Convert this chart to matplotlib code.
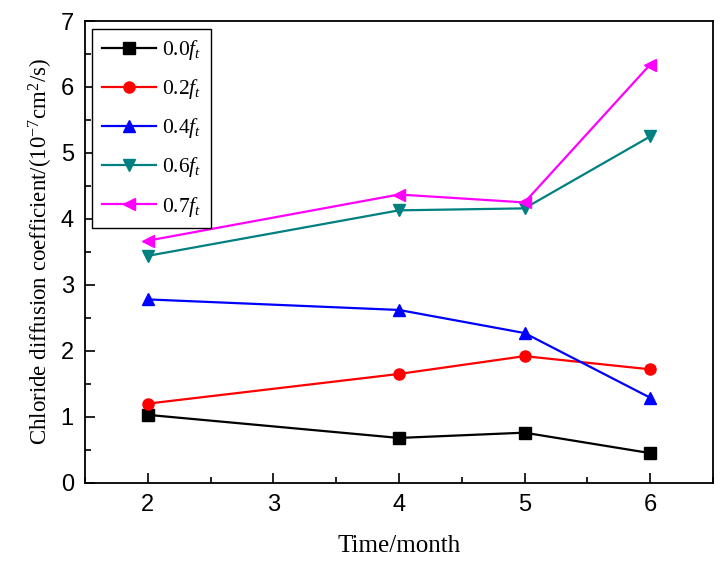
import numpy as np
import matplotlib.pyplot as plt
from matplotlib.ticker import MultipleLocator

plt.rcParams['mathtext.fontset'] = 'custom'
plt.rcParams['mathtext.rm'] = 'Liberation Serif'
plt.rcParams['mathtext.it'] = 'Liberation Serif:italic'

months = [2, 4, 5, 6]
labels = ['0.0', '0.2', '0.4', '0.6', '0.7']
d00 = [1.03, 0.68, 0.76, 0.45]
d02 = [1.20, 1.65, 1.92, 1.72]
d04 = [2.78, 2.62, 2.27, 1.29]
d06 = [3.44, 4.13, 4.16, 5.25]
d07 = [3.67, 4.37, 4.25, 6.34]

series = [d00, d02, d04, d06, d07]
colors = ['black', 'red', 'blue', '#008080', 'magenta']
markers = ['s', 'o', '^', 'v', '<']

fig = plt.figure(figsize=(7.26, 5.68), dpi=100)
ax = fig.add_axes([0.117, 0.150, 0.865, 0.813])

for y, c, m, lab in zip(series, colors, markers, labels):
    ax.plot(months, y, color=c, marker=m, markersize=8, linewidth=1.6,
            label=lab + r'$\mathit{f}_{\mathit{t}}$')

ax.set_xlim(1.5, 6.5)
ax.set_ylim(0, 7)
ax.xaxis.set_major_locator(MultipleLocator(1))
ax.xaxis.set_minor_locator(MultipleLocator(0.5))
ax.yaxis.set_major_locator(MultipleLocator(1))
ax.yaxis.set_minor_locator(MultipleLocator(0.5))
ax.tick_params(which='both', direction='in', top=False, right=False, width=1.2)
ax.tick_params(which='major', length=7, labelsize=17, pad=8)
ax.tick_params(which='minor', length=4)
for lbl in ax.get_xticklabels() + ax.get_yticklabels():
    lbl.set_fontfamily('Liberation Sans')
for s in ax.spines.values():
    s.set_linewidth(1.3)

ax.set_xlabel('Time/month', fontsize=18, fontfamily='Liberation Serif', labelpad=14)
ax.set_ylabel(r'Chloride diffusion coefficient/(10$^{-7}$cm$^{2}$/s)', fontsize=16.5,
              fontfamily='Liberation Serif', labelpad=4)

leg = ax.legend(loc='upper left', fancybox=False, edgecolor='black', framealpha=1,
                prop={'family': 'Liberation Serif', 'size': 15.5}, handlelength=2.5,
                handletextpad=0.3, borderpad=0.45, labelspacing=0.7, borderaxespad=0.35)
leg.get_frame().set_linewidth(1.0)

fig.savefig('out.png', dpi=100)
